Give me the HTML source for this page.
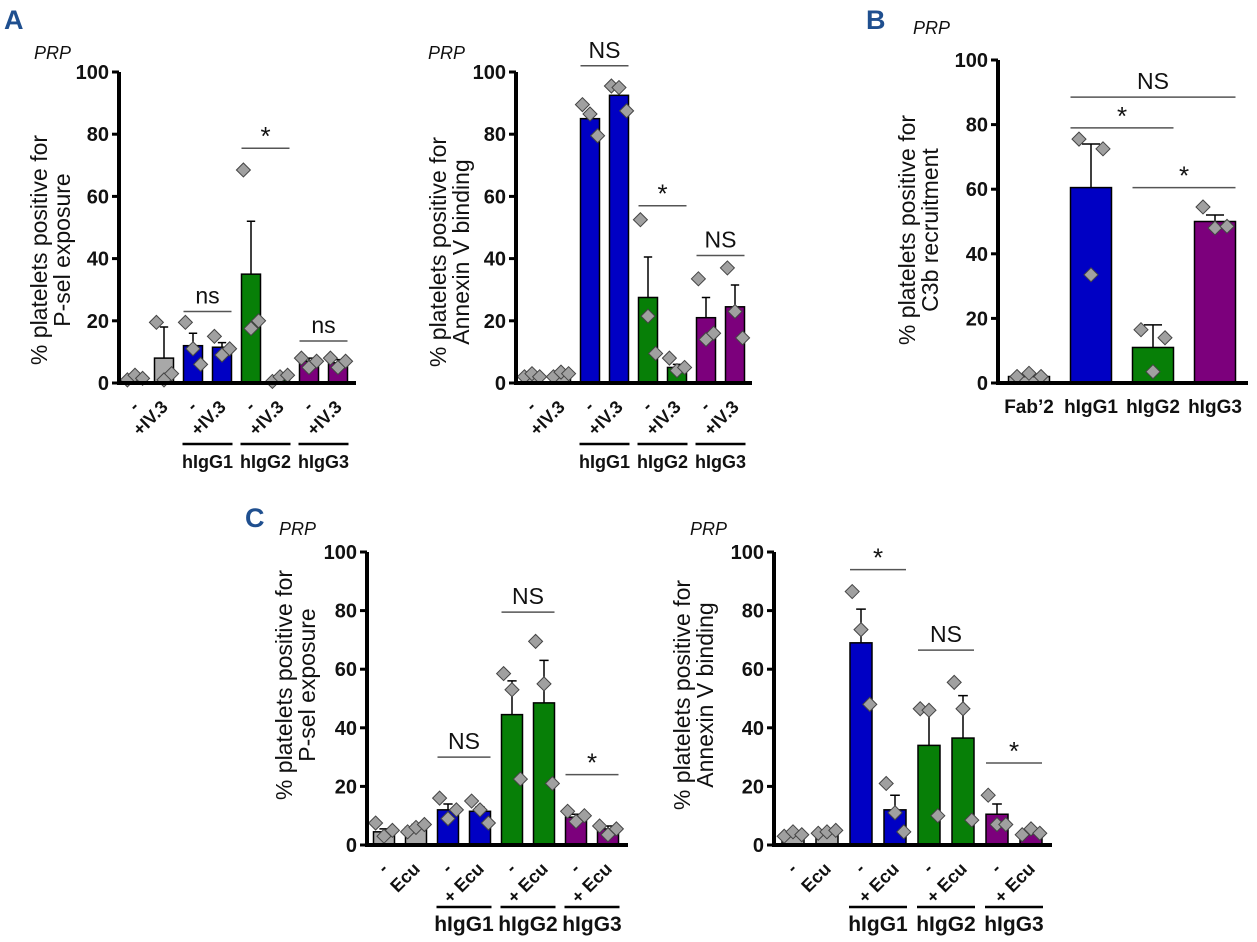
<!DOCTYPE html>
<html><head><meta charset="utf-8"><style>
html,body{margin:0;padding:0;background:#fff;}
svg{display:block;font-family:"Liberation Sans",sans-serif;}
</style></head><body>
<svg id="fig" width="1257" height="942" viewBox="0 0 1257 942"></svg>
<script>
// ---- Panel A1: P-sel exposure (IV.3) ----
const a1Means = [1, 8, 12, 11.5, 35, 1, 7, 6.5];
const a1Errors = [0.5, 10, 4, 1.5, 17, 0.5, 1, 1];
const a1Points = [[1,2.5,1.5],[19.5,1,3],[19.5,11,6],[15,9,11],[68.5,17.5,20],[0.5,2,2.5],[8,5,7],[8,5,7]];
// ---- Panel A2: Annexin V (IV.3) ----
const a2Means = [2, 2.5, 85, 92.5, 27.5, 5, 21, 24.5];
const a2Errors = [0.5, 0.5, 2, 2.5, 13, 1, 6.5, 7];
const a2Points = [[2,3,2],[2,3.5,3],[89.5,86.5,79.5],[95.5,95,87.5],[52.5,21.5,9.5],[8,4,5],[33.5,14,16],[37,23,14.5]];
// ---- Panel B: C3b recruitment ----
const bCategories = ["Fab\u20192", "hIgG1", "hIgG2", "hIgG3"];
const bMeans = [2, 60.5, 11, 50];
const bErrors = [0.5, 13.5, 7, 2];
const bPoints = [[2,3,2],[75.5,33.5,72.5],[16.5,3.5,14],[54.5,48,48.5]];
// ---- Panel C1: P-sel exposure (Ecu) ----
const c1Means = [4.5, 6, 12, 11.5, 44.5, 48.5, 9.5, 5.5];
const c1Errors = [1, 1, 2, 1.5, 11.5, 14.5, 1, 1];
const c1Points = [[7.5,3,5],[4.5,6,7],[16,9,12],[15,12,7.5],[58.5,53,22.5],[69.5,55,21],[11.5,8,10],[6.5,3.5,5.5]];
// ---- Panel C2: Annexin V (Ecu) ----
const c2Means = [3.5, 4, 69, 12, 34, 36.5, 10.5, 4];
const c2Errors = [0.5, 0.5, 11.5, 5, 11.5, 14.5, 3.5, 0.8];
const c2Points = [[3,4.5,3.5],[4,4.5,5],[86.5,73.5,48],[21,11,4.5],[46.5,46,10],[55.5,46.5,8.5],[17,7,7],[3.5,5.5,4]];
const yTicks = [0, 20, 40, 60, 80, 100];
const groupNames = ["hIgG1", "hIgG2", "hIgG3"];
const ivLabels = ["-", "+IV.3"];
const ecuLabels = ["-", "Ecu", "-", "+ Ecu", "-", "+ Ecu", "-", "+ Ecu"];

const NS = "http://www.w3.org/2000/svg";
const svg = document.getElementById("fig");
const COLORS8 = ["#a8a8a8","#a8a8a8","#0000c4","#0000c4","#077f07","#077f07","#7c007c","#7c007c"];
const COLORS4 = ["#a8a8a8","#0000c4","#077f07","#7c007c"];
function mk(tag, attrs, parent){
  const e = document.createElementNS(NS, tag);
  for (const k in attrs) e.setAttribute(k, attrs[k]);
  (parent||svg).appendChild(e);
  return e;
}
function txt(s, attrs, parent){ const t = mk("text", attrs, parent); t.textContent = s; return t; }

function panel(id, cfg){
  const g = mk("g", {});
  
  
  const y = v => cfg.y0 - (cfg.y0 - cfg.y100) * v / 100;
  const x = i => cfg.x0 + cfg.step * i;
  const tt = txt("", {transform:`translate(${cfg.tx},${cfg.ty}) rotate(-90)`, "text-anchor":"middle", "font-size":23, fill:"#111"}, g);
  
  
  const s1 = mk("tspan", {x:0, y:0}, tt); s1.textContent = "% platelets positive for";
  const s2 = mk("tspan", {x:0, dy:23}, tt); s2.textContent = cfg.title2;
  const p = txt("PRP", {x:cfg.prp[0], y:cfg.prp[1], "font-size":18, "font-style":"italic", fill:"#111"}, g);
  
  
  yTicks.forEach(v => {
    const l = mk("line", {x1:cfg.ax-7, x2:cfg.ax, y1:y(v), y2:y(v), stroke:"#000", "stroke-width":3}, g);
    
    
    const t = txt(String(v), {x:cfg.ax-10, y:y(v)+7, "text-anchor":"end", "font-size":20, "font-weight":"bold", fill:"#111"}, g);
    
    
  });
  cfg.means.forEach((m, i) => {
    const cx = x(i), w = cfg.bw;
    const r = mk("rect", {x:cx-w/2, y:y(m), width:w, height:y(0)-y(m), fill:cfg.colors[i], stroke:"#000", "stroke-width":1.5}, g);
    
    
    const top = y(m + cfg.errors[i]);
    const e = mk("path", {d:`M${cx},${y(m)}V${top}M${cx-w*0.22},${top}H${cx+w*0.22}`, stroke:"#000", "stroke-width":1.5, fill:"none"}, g);
    
    
    const pts = cfg.points[i], n = pts.length;
    const sp = Math.min(w * 0.4, 12);
    pts.forEach((v, j) => {
      const px = cx + (j - (n-1)/2) * sp, py = y(v), d = 7;
      const dm = mk("path", {d:`M${px},${py-d}L${px+d},${py}L${px},${py+d}L${px-d},${py}Z`, fill:"#a0a0a0", stroke:"#444", "stroke-width":1}, g);
      
      
    });
  });
  const ax = mk("path", {d:`M${cfg.ax},${cfg.y100}V${cfg.y0}H${cfg.xend}`, stroke:"#000", "stroke-width":4, fill:"none"}, g);
  
  
  if (cfg.catLabels) {
    cfg.catLabels.forEach((s, i) => {
      const t = txt(s, {x:x(i), y:cfg.labY, "text-anchor":"middle", "font-size":19, "font-weight":"bold", fill:"#111"}, g);
      
      
    });
  } else {
    cfg.rotLabels.forEach((s, i) => {
      const lx = x(i) + 5, ly = cfg.y0 + 25;
      const t = txt(s, {x:lx, y:ly, "text-anchor":"end", "font-size":18, "font-weight":"bold", fill:"#111", transform:`rotate(-45 ${lx} ${ly})`}, g);
      
      
    });
    groupNames.forEach((nm, k) => {
      const i = 2 + 2*k, xa = x(i) - cfg.bw/2 - 1, xb = x(i+1) + cfg.bw/2 + 1;
      const l = mk("line", {x1:xa, x2:xb, y1:cfg.gy, y2:cfg.gy, stroke:"#000", "stroke-width":2.5}, g);
      
      
      const t = txt(nm, {x:(xa+xb)/2, y:cfg.gy+24, "text-anchor":"middle", "font-size":cfg.gfs, "font-weight":"bold", fill:"#111"}, g);
      
      
    });
  }
  cfg.sig.forEach(([a, b, v, lab]) => {
    const xa = x(a) - cfg.bw/2, xb = x(b) + cfg.bw/2, yy = y(v);
    const l = mk("line", {x1:xa, x2:xb, y1:yy, y2:yy, stroke:"#555", "stroke-width":1.5}, g);
    
    
    const t = txt(lab, {x:(xa+xb)/2, y: lab==="*" ? yy-3 : yy-8, "text-anchor":"middle", "font-size": lab==="*"?26:23, fill:"#111"}, g);
    
    
  });
}

function letter(s, xx, yy){
  const t = txt(s, {x:xx, y:yy, "font-size":27, "font-weight":"bold", fill:"#1f4f8f"});
  
  
}
letter("A", 4, 29); letter("B", 866, 29); letter("C", 245, 527);

panel("a1", {ax:119, y0:383, y100:72, x0:135, step:29, bw:19, xend:356, colors:COLORS8, gfs:18,
  means:a1Means, errors:a1Errors, points:a1Points, rotLabels:ivLabels.concat(ivLabels,ivLabels,ivLabels), gy:444,
  tx:47, ty:250, title2:"P-sel exposure", prp:[34,59],
  sig:[[2,3,23,"ns"],[4,5,75.5,"*"],[6,7,13.5,"ns"]]});
panel("a2", {ax:516, y0:383, y100:72, x0:532, step:29, bw:19, xend:752, colors:COLORS8, gfs:18,
  means:a2Means, errors:a2Errors, points:a2Points, rotLabels:ivLabels.concat(ivLabels,ivLabels,ivLabels), gy:444,
  tx:446, ty:252, title2:"Annexin V binding", prp:[428,59],
  sig:[[2,3,102,"NS"],[4,5,57,"*"],[6,7,41,"NS"]]});
panel("b", {ax:998, y0:383, y100:60, x0:1029, step:62, bw:41, xend:1248, colors:COLORS4, gfs:19,
  means:bMeans, errors:bErrors, points:bPoints, catLabels:bCategories, labY:413,
  tx:915, ty:230, title2:"C3b recruitment", prp:[913,34],
  sig:[[1,3,88.5,"NS"],[1,2,79,"*"],[2,3,60.5,"*"]]});
panel("c1", {ax:367, y0:845, y100:552, x0:384, step:32, bw:21, xend:628, colors:COLORS8, gfs:21,
  means:c1Means, errors:c1Errors, points:c1Points, rotLabels:ecuLabels, gy:907,
  tx:292, ty:685, title2:"P-sel exposure", prp:[279,535],
  sig:[[2,3,30,"NS"],[4,5,79.5,"NS"],[6,7,24,"*"]]});
panel("c2", {ax:774, y0:845, y100:552, x0:793, step:34, bw:22, xend:1052, colors:COLORS8, gfs:21,
  means:c2Means, errors:c2Errors, points:c2Points, rotLabels:ecuLabels, gy:907,
  tx:690, ty:695, title2:"Annexin V binding", prp:[690,535],
  sig:[[2,3,94,"*"],[4,5,66.5,"NS"],[6,7,28,"*"]]});
</script>
</body></html>
